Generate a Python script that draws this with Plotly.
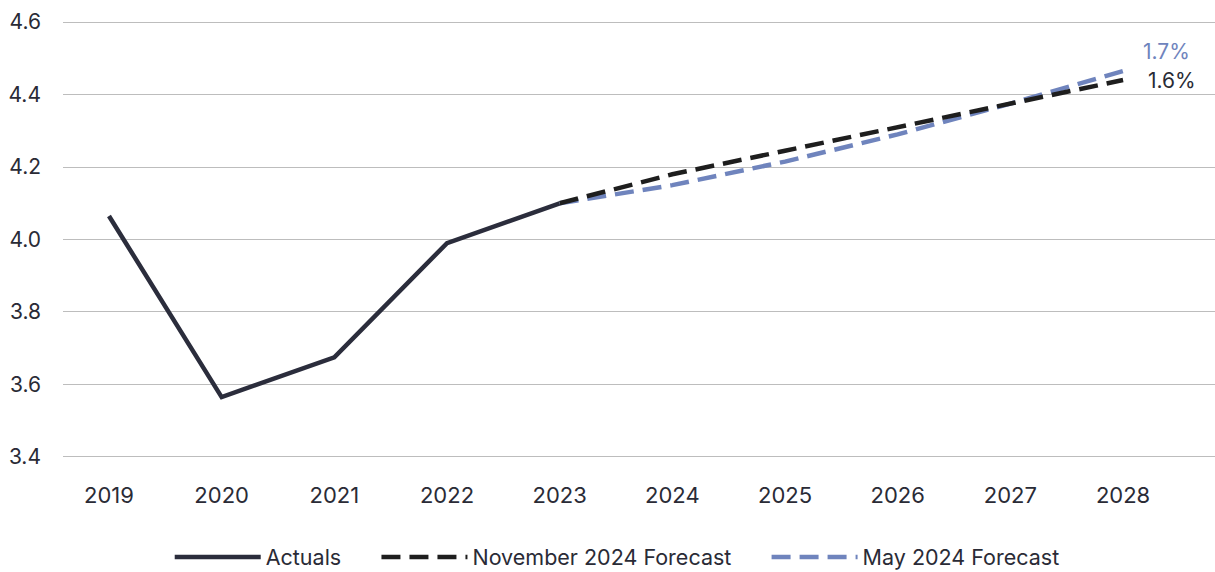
import plotly.graph_objects as go

years = ["2019", "2020", "2021", "2022", "2023", "2024", "2025", "2026", "2027", "2028"]
actual_years = ["2019", "2020", "2021", "2022", "2023"]
actual_values = [4.065, 3.565, 3.675, 3.99, 4.10]
forecast_years = ["2023", "2024", "2025", "2026", "2027", "2028"]
nov_forecast = [4.10, 4.18, 4.245, 4.31, 4.375, 4.44]
may_forecast = [4.10, 4.15, 4.215, 4.29, 4.375, 4.465]
nov_growth_label = "1.6%"
may_growth_label = "1.7%"
y_ticks = [3.4, 3.6, 3.8, 4.0, 4.2, 4.4, 4.6]

TEXT = "#2a2b36"
NAVY = "#2b2d3c"
BLACK = "#1e1e1e"
BLUE = "#6f84bd"
FONT = "Inter, Roboto, Arial, sans-serif"
DASH = "19px,9px"
GAP = "\u00a0" * 5  # spacing between legend entries

fig = go.Figure()
fig.add_trace(go.Scatter(
    x=actual_years, y=actual_values, mode="lines", name="Actuals" + GAP,
    line=dict(color=NAVY, width=4.5),
))
fig.add_trace(go.Scatter(
    x=forecast_years, y=may_forecast, mode="lines", name="May 2024 Forecast",
    line=dict(color=BLUE, width=4.5, dash=DASH), showlegend=False,
))
fig.add_trace(go.Scatter(
    x=forecast_years, y=nov_forecast, mode="lines", name="November 2024 Forecast" + GAP,
    line=dict(color=BLACK, width=4.5, dash=DASH),
))
# legend entry for May listed after November
fig.add_trace(go.Scatter(
    x=[None], y=[None], mode="lines", name="May 2024 Forecast",
    line=dict(color=BLUE, width=4.5, dash=DASH),
))

last = len(years) - 1
fig.add_annotation(x=last, y=may_forecast[-1] + 0.055, text=may_growth_label,
                   xref="x", yref="y", showarrow=False, xanchor="left", xshift=18,
                   font=dict(color=BLUE, size=21, family=FONT))
fig.add_annotation(x=last, y=nov_forecast[-1], text=nov_growth_label,
                   xref="x", yref="y", showarrow=False, xanchor="left", xshift=23,
                   font=dict(color=TEXT, size=21, family=FONT))

fig.update_layout(
    width=1215, height=572,
    margin=dict(l=63, r=0, t=21, b=114),
    paper_bgcolor="white", plot_bgcolor="white",
    font=dict(family=FONT, color=TEXT, size=20),
    showlegend=True,
    legend=dict(orientation="h", xref="container", yref="container",
                x=0.508, xanchor="center", y=0.026, yanchor="middle",
                font=dict(size=21.5, color=TEXT), itemwidth=86,
                traceorder="normal"),
    xaxis=dict(type="category", categoryorder="array", categoryarray=years,
               range=[-0.408, 9.816], showgrid=False, zeroline=False,
               showline=False, ticks="", tickfont=dict(size=22, color=TEXT),
               ticklabelstandoff=22),
    yaxis=dict(range=[3.397, 4.603], tickvals=y_ticks,
               ticktext=[f"{v:.1f}" for v in y_ticks],
               showgrid=True, gridcolor="#bdbdbd", gridwidth=1,
               zeroline=False, showline=False, ticks="",
               tickfont=dict(size=21, color=TEXT), ticklabelstandoff=21),
)

fig.write_html("out.html")
